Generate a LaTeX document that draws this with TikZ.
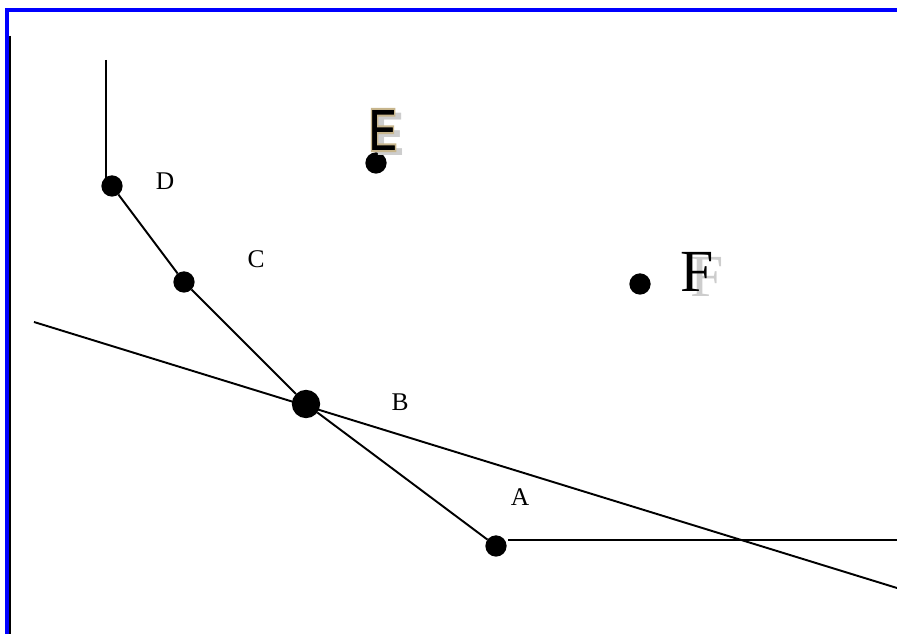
\documentclass[tikz,border=0pt]{standalone}
\usepackage{fontspec}
\setmainfont{Liberation Serif}
\newfontfamily\labelsans{Liberation Sans}
\definecolor{frameblue}{RGB}{0,0,255}
\definecolor{shadowgray}{RGB}{205,205,205}
\newcommand{\tanedge}[1]{\special{pdf:code q 2 Tr 1.1 w 0.78 0.71 0.55 RG}#1\special{pdf:code Q}}
\begin{document}
\begin{tikzpicture}[x=0.02cm,y=-0.02cm,line width=1.1pt,
    ptnode/.style={circle,draw,fill=black,minimum size=11,inner sep=0pt},
    bignode/.style={circle,draw,fill=black,minimum size=15,inner sep=0pt},
    letter/.style={inner sep=0pt,font=\fontsize{14.5}{14.5}\selectfont},
    bigE/.style={inner sep=0pt,font=\labelsans\bfseries\fontsize{35}{35}\selectfont} ]
    \useasboundingbox (0,0) rectangle (897,634);
    % frame
    \draw [frameblue,line width=2.3pt] (7,634) -- (7,10) -- (897,10);
    \draw [line width=0.8pt] (10,36) -- (10,634);
    % points
    \node at (112,186) [ptnode] (D) {};
    \node at (184,282) [ptnode] (C) {};
    \node at (306,404) [bignode] (B) {};
    \node at (496,546) [ptnode] (A) {};
    \node at (376,163) [ptnode] (E) {};
    \node at (640,284) [ptnode] (F) {};
    \node at (165,181) [letter] (Dlab) {D};
    \node at (256,259) [letter] (Clab) {C};
    \node at (400,402) [letter] (Blab) {B};
    \node at (520,497) [letter] (Alab) {A};
    % E with shadow and edge
    \node at (390,134) [bigE,text=shadowgray] (Esh) {\scalebox{0.7}[1]{E}};
    \node at (383,130) [bigE] (Elab) {\scalebox{0.7}[1]{\tanedge{E}}};
    % F with shadow
    \node at (707,277) [inner sep=0pt,text=shadowgray,font=\fontsize{34}{34}\selectfont] (Fsh) {F};
    \node at (697,272) [inner sep=0pt,font=\fontsize{34}{34}\selectfont] (Flab) {F};
    % lines
    \coordinate (Dtop) at (106,60);
    \coordinate (Dbot) at (106,181);
    \coordinate (Aend) at (508,540);
    \coordinate (Aright) at (897,540);
    \coordinate (L1) at (34,322);
    \coordinate (L2) at (897,588);
    \draw [-] (Dtop) to (Dbot);
    \draw [-] (D) to (C);
    \draw [-] (C) to (B);
    \draw [-] (B) to (A);
    \draw [-] (Aend) to (Aright);
    \draw [-] (L1) to (L2);
\end{tikzpicture}
\end{document}
